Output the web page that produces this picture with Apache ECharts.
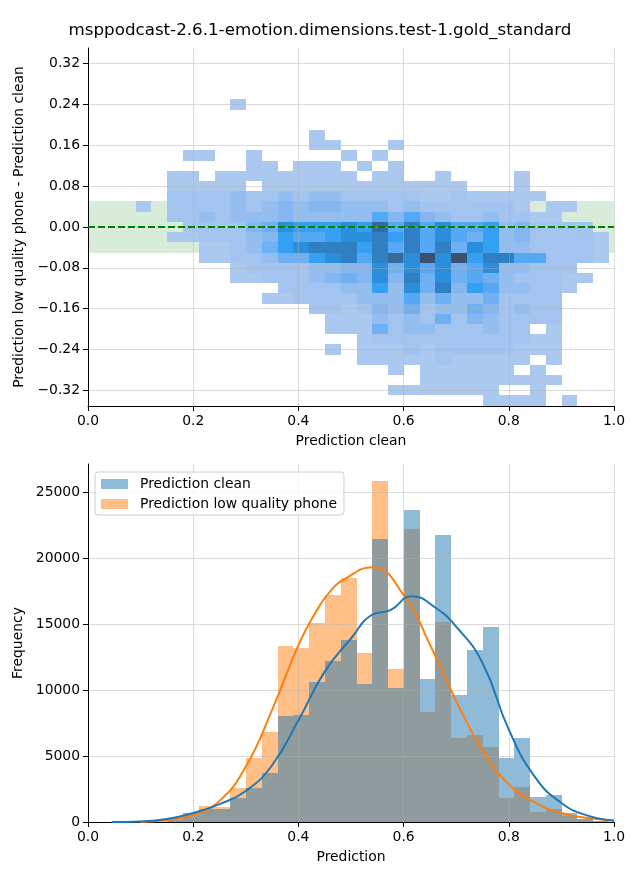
<!DOCTYPE html>
<html><head><meta charset="utf-8">
<script src="https://cdn.jsdelivr.net/npm/echarts@6/dist/echarts.min.js"></script>
<style>html,body{margin:0;padding:0;background:#fff}#c{width:640px;height:880px}</style>
</head><body><div id="c"></div>
<script>
const chartTitle = 'msppodcast-2.6.1-emotion.dimensions.test-1.gold_standard';
const seriesNames = ['Prediction clean', 'Prediction low quality phone'];

// shared x bins (Prediction)
const binStart0 = 0.0605;
const binWidth = 0.03;
// bottom histogram counts per bin
const histClean = [0, 20, 0, 250, 700, 1000, 1000, 1800, 2600, 3740, 8030, 8100, 10600, 12170, 13790, 10480, 21440, 10180, 23640, 10830, 21740, 9620, 13030, 14770, 4850, 6360, 1890, 2050, 700, 250, 50];
const histPhone = [0, 10, 40, 150, 550, 1200, 1150, 2550, 4870, 6820, 13360, 13160, 15050, 17170, 18480, 12800, 25830, 11590, 22200, 8360, 15180, 6390, 6590, 5710, 1840, 2650, 780, 980, 450, 200, 50];
// KDE curves
const kdeCleanX = [0.045, 0.10, 0.15, 0.20, 0.25, 0.30, 0.35, 0.40, 0.45, 0.50, 0.54, 0.575, 0.615, 0.66, 0.70, 0.75, 0.80, 0.85, 0.90, 0.95, 1.0];
const kdeCleanY = [0, 40, 220, 680, 1350, 2350, 4300, 7700, 11390, 13900, 15700, 16050, 17100, 16250, 14800, 12040, 7000, 3400, 1440, 480, 120];
const kdePhoneX = [0.10, 0.15, 0.20, 0.25, 0.30, 0.35, 0.40, 0.43, 0.46, 0.49, 0.54, 0.60, 0.65, 0.70, 0.75, 0.80, 0.85, 0.90, 0.95, 1.0];
const kdePhoneY = [0, 150, 530, 1600, 4200, 8500, 13400, 15700, 17450, 18450, 19300, 17200, 13450, 9170, 5450, 2850, 1470, 680, 300, 100];

// top 2D histogram: rows from y=0.25 downward, 0.02 tall; one char per x bin (0 = empty, 1..b = count level)
const yBinTop = 0.25;
const yBinHeight = 0.02;
const cellLevels = [
  "0000000100000000000000000000000",
  "0000000000000000000000000000000",
  "0000000000000000000000000000000",
  "0000000000001000000000000000000",
  "0000000000001100010000000000000",
  "0000110010000010100000000000000",
  "0000000011011101010000000000000",
  "0001101111111110110010000100000",
  "0001111101111111111111000100000",
  "0002222322323322222112111110000",
  "0102222323434433323222222101100",
  "0002232333433333646432232211000",
  "0000222245877787a69686673422220",
  "0001122234766788979686573422221",
  "0000011235789997969695873322221",
  "00000112235578969a8b8b799662221",
  "0000000122223344858685683322200",
  "0000000112223454849585653222110",
  "0000000000222233738594763322100",
  "0000000001122223336353352222000",
  "0000000000002212435233542322000",
  "0000000000000111323252432222000",
  "0000000000000111523322232201000",
  "0000000000000001222222222211000",
  "0000000000000101112122222111000",
  "0000000000000001111121111101000",
  "0000000000000000010111111010000",
  "0000000000000000000111111111000",
  "0000000000000000011111110010000",
  "0000000000000000000000011110100"
];
const bandLow = -0.05, bandHigh = 0.05, refLineY = 0;
const yTicksTop = [-0.32, -0.24, -0.16, -0.08, 0, 0.08, 0.16, 0.24, 0.32];
const yTicksBottom = [0, 5000, 10000, 15000, 20000, 25000];

// styling
const palette = ['#abc9ef','#a2c4ef','#94bdf0','#84b7f2','#6fb0f3','#55a8f3','#34a0f1','#2a8fdb','#2f7fc2','#386b9c','#3c506f'];
const FONT = 'DejaVu Sans';
const gridLine = {show: true, lineStyle: {color: 'rgba(176,176,176,0.45)', width: 1}};
const axisCommon = {
  axisLine: {show: true, onZero: false, lineStyle: {color: '#000', width: 1}},
  axisTick: {show: true, length: 5, lineStyle: {color: '#000', width: 1}},
  axisLabel: {color: '#000', fontSize: 13.9, fontFamily: FONT, margin: 8},
  nameTextStyle: {color: '#000', fontSize: 13.9, fontFamily: FONT},
  nameLocation: 'middle',
  splitLine: gridLine,
  z: 3
};
function fmtSigned(v) { const s = Math.abs(v).toFixed(2); return (v < -1e-9 ? '\u2212' : '') + s; }

const cells = [];
cellLevels.forEach((row, r) => {
  for (let j = 0; j < row.length; j++) {
    const lv = parseInt(row[j], 16);
    if (lv > 0) cells.push([binStart0 + j * binWidth, binStart0 + (j + 1) * binWidth,
      yBinTop - (r + 1) * yBinHeight, yBinTop - r * yBinHeight, lv]);
  }
});
const barsClean = histClean.map((c, j) => [binStart0 + j * binWidth, binStart0 + (j + 1) * binWidth, c]);
const barsPhone = histPhone.map((c, j) => [binStart0 + j * binWidth, binStart0 + (j + 1) * binWidth, c]);

function rectItem(api, xa, xb, ya, yb, fill, opacity) {
  const a = api.coord([xa, yb]);
  const b = api.coord([xb, ya]);
  const x0 = Math.round(a[0]), y0 = Math.round(a[1]), x1 = Math.round(b[0]), y1 = Math.round(b[1]);
  return {type: 'rect', shape: {x: x0, y: y0, width: x1 - x0, height: y1 - y0},
    style: {fill: fill, opacity: opacity == null ? 1 : opacity}};
}

const chart = echarts.init(document.getElementById('c'), null, {renderer: 'canvas'});
chart.setOption({
  animation: false,
  textStyle: {fontFamily: FONT},
  title: {text: chartTitle, left: 'center', top: 17,
    textStyle: {fontSize: 16.7, fontWeight: 'normal', color: '#000', fontFamily: FONT}},
  grid: [
    {left: 88, right: 26, top: 48, height: 358},
    {left: 88, right: 26, top: 464, height: 358}
  ],
  xAxis: [
    Object.assign({}, axisCommon, {gridIndex: 0, type: 'value', min: 0, max: 1, interval: 0.2,
      name: 'Prediction clean', nameGap: 28,
      axisLabel: Object.assign({}, axisCommon.axisLabel, {formatter: v => v.toFixed(1)})}),
    Object.assign({}, axisCommon, {gridIndex: 1, type: 'value', min: 0, max: 1, interval: 0.2,
      name: 'Prediction', nameGap: 28,
      axisLabel: Object.assign({}, axisCommon.axisLabel, {formatter: v => v.toFixed(1)})})
  ],
  yAxis: [
    Object.assign({}, axisCommon, {gridIndex: 0, type: 'value', min: -0.3506, max: 0.3506,
      name: 'Prediction low quality phone - Prediction clean', nameGap: 55,
      axisTick: Object.assign({}, axisCommon.axisTick, {customValues: yTicksTop}),
      axisLabel: Object.assign({}, axisCommon.axisLabel, {customValues: yTicksTop, formatter: fmtSigned})}),
    Object.assign({}, axisCommon, {gridIndex: 1, type: 'value', min: 0, max: 27120,
      name: 'Frequency', nameGap: 55,
      axisTick: Object.assign({}, axisCommon.axisTick, {customValues: yTicksBottom}),
      axisLabel: Object.assign({}, axisCommon.axisLabel, {customValues: yTicksBottom, formatter: v => String(v)})})
  ],
  legend: {
    left: 95, top: 472, orient: 'vertical', icon: 'rect', itemWidth: 27, itemHeight: 10, itemGap: 6,
    padding: [5, 7, 4, 6], backgroundColor: 'rgba(255,255,255,0.8)', borderColor: '#cccccc', borderWidth: 1, borderRadius: 3,
    textStyle: {color: '#000', fontSize: 13.9, fontFamily: FONT, padding: [0, 0, 0, 7]},
    selectedMode: false,
    data: [
      {name: seriesNames[0], itemStyle: {color: 'rgba(31,119,180,0.5)'}},
      {name: seriesNames[1], itemStyle: {color: 'rgba(255,127,14,0.5)'}}
    ]
  },
  series: [
    {type: 'custom', name: 'band', xAxisIndex: 0, yAxisIndex: 0, z: 1, silent: true,
      data: [[0, 1, bandLow, bandHigh]], encode: {x: [0, 1], y: [2, 3]},
      renderItem: (p, api) => rectItem(api, api.value(0), api.value(1), api.value(2), api.value(3), 'rgba(0,128,0,0.15)')},
    {type: 'custom', name: 'hist2d', xAxisIndex: 0, yAxisIndex: 0, z: 2, silent: true,
      data: cells, encode: {x: [0, 1], y: [2, 3]},
      renderItem: (p, api) => rectItem(api, api.value(0), api.value(1), api.value(2), api.value(3), palette[api.value(4) - 1])},
    {type: 'line', name: 'zero', xAxisIndex: 0, yAxisIndex: 0, z: 4, silent: true, symbol: 'none',
      data: [[0, refLineY], [1, refLineY]],
      lineStyle: {color: '#008000', width: 2, type: [7, 3]}},
    {type: 'custom', name: seriesNames[1], xAxisIndex: 1, yAxisIndex: 1, z: 2, silent: true,
      itemStyle: {color: 'rgba(255,127,14,0.5)'},
      data: barsPhone, encode: {x: [0, 1], y: 2},
      renderItem: (p, api) => rectItem(api, api.value(0), api.value(1), 0, api.value(2), '#ff7f0e', 0.5)},
    {type: 'custom', name: seriesNames[0], xAxisIndex: 1, yAxisIndex: 1, z: 2, silent: true,
      itemStyle: {color: 'rgba(31,119,180,0.5)'},
      data: barsClean, encode: {x: [0, 1], y: 2},
      renderItem: (p, api) => rectItem(api, api.value(0), api.value(1), 0, api.value(2), '#1f77b4', 0.5)},
    {type: 'line', name: 'kde phone', xAxisIndex: 1, yAxisIndex: 1, z: 4, silent: true, symbol: 'none',
      smooth: 0.5,
      data: kdePhoneX.map((x, i) => [x, kdePhoneY[i]]), lineStyle: {color: '#ff7f0e', width: 2}},
    {type: 'line', name: 'kde clean', xAxisIndex: 1, yAxisIndex: 1, z: 4, silent: true, symbol: 'none',
      smooth: 0.5,
      data: kdeCleanX.map((x, i) => [x, kdeCleanY[i]]), lineStyle: {color: '#1f77b4', width: 2}}
  ]
});
</script></body></html>
